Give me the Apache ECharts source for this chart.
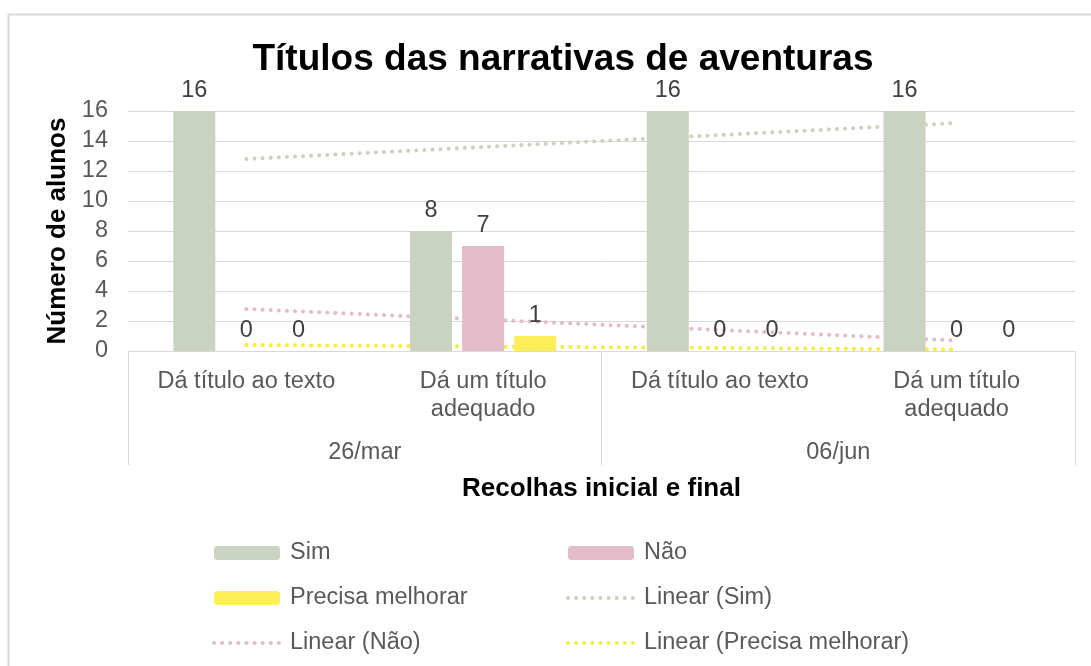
<!DOCTYPE html>
<html>
<head>
<meta charset="utf-8">
<script src="https://cdn.jsdelivr.net/npm/echarts@6/dist/echarts.min.js"></script>
<style>
  html, body { margin: 0; padding: 0; background: #fff; }
  #chart { width: 1091px; height: 666px; }
</style>
</head>
<body>
<div id="chart"></div>
<script>
// categories
const subCategories = ['Dá título ao texto', 'Dá um título\nadequado', 'Dá título ao texto', 'Dá um título\nadequado'];
const groups = ['26/mar', '06/jun'];

// bar values
const sim = [16, 8, 16, 16];
const nao = [0, 7, 0, 0];
const precisa = [0, 1, 0, 0];

// trend lines
const linearSim = [12.8, 13.6, 14.4, 15.2];
const linearNao = [2.8, 2.1, 1.4, 0.7];
const linearPrecisa = [0.4, 0.3, 0.2, 0.1];

const font = 'Liberation Sans, Arial, sans-serif';
const gray = '#595959';
const colSim = '#cad3bf';
const colNao = '#e2bdc9';
const colPrecisa = '#fbee5a';
const colPrecisaLine = '#f7ec3a';
const fs = 23.5;

const chart = echarts.init(document.getElementById('chart'));

function dotted(color) {
  return { color: color, width: 4, type: [0.1, 8], cap: 'round' };
}

function barSeries(name, data, color) {
  return {
    name: name,
    type: 'bar',
    data: data,
    barWidth: 42,
    barGap: '24%',
    z: 3,
    itemStyle: { color: color },
    label: {
      show: true,
      position: 'top',
      distance: 8,
      fontFamily: font,
      fontSize: fs,
      color: '#404040'
    }
  };
}

function trendSeries(name, data, color) {
  return {
    name: name,
    type: 'line',
    data: data,
    symbol: 'none',
    silent: true,
    z: 1,
    itemStyle: { color: color },
    lineStyle: dotted(color)
  };
}

function legendItem(name, lineColor) {
  if (!lineColor) return { name: name };
  return { name: name, itemStyle: { opacity: 0 }, lineStyle: dotted(lineColor) };
}

const legendText = { fontFamily: font, fontSize: fs, color: gray, lineHeight: 24, padding: [0, 0, 0, 5] };

chart.setOption({
  animation: false,
  textStyle: { fontFamily: font },
  title: {
    text: 'Títulos das narrativas de aventuras',
    left: 558,
    textAlign: 'center',
    top: 36,
    textStyle: { fontFamily: font, fontSize: 37, fontWeight: 'bold', color: '#000' }
  },
  graphic: [{
    type: 'rect',
    shape: { x: 8.5, y: 14.5, width: 1200, height: 800 },
    style: { fill: 'none', stroke: '#d9d9d9', lineWidth: 2 },
    silent: true
  }],
  legend: [
    {
      orient: 'vertical',
      left: 212,
      top: 541,
      padding: 0,
      itemWidth: 66,
      itemHeight: 14,
      itemGap: 21,
      textStyle: legendText,
      data: [legendItem('Sim'), legendItem('Precisa melhorar'), legendItem('Linear (Não)', colNao)]
    },
    {
      orient: 'vertical',
      left: 566,
      top: 541,
      padding: 0,
      itemWidth: 66,
      itemHeight: 14,
      itemGap: 21,
      textStyle: legendText,
      data: [legendItem('Não'), legendItem('Linear (Sim)', colSim), legendItem('Linear (Precisa melhorar)', colPrecisaLine)]
    }
  ],
  grid: { left: 128, right: 16, top: 111, bottom: 315, containLabel: false },
  xAxis: [
    {
      type: 'category',
      data: subCategories,
      position: 'bottom',
      axisLine: { show: true, lineStyle: { color: '#d9d9d9', width: 1 } },
      axisTick: { show: false },
      axisLabel: { fontFamily: font, fontSize: fs, color: gray, lineHeight: 28, margin: 17, interval: 0 },
      name: 'Recolhas inicial e final',
      nameLocation: 'middle',
      nameGap: 125,
      nameTextStyle: { fontFamily: font, fontSize: 26, fontWeight: 'bold', color: '#000' }
    },
    {
      type: 'category',
      data: groups,
      position: 'bottom',
      axisLine: { show: false },
      axisTick: { show: true, length: 114, interval: 0, lineStyle: { color: '#d9d9d9', width: 1 } },
      axisLabel: { fontFamily: font, fontSize: fs, color: gray, margin: 90 },
      splitLine: { show: false }
    }
  ],
  yAxis: {
    type: 'value',
    min: 0,
    max: 16,
    interval: 2,
    axisLine: { show: false },
    axisTick: { show: false },
    axisLabel: { fontFamily: font, fontSize: fs, color: gray, margin: 20, padding: [4, 0, 0, 0] },
    splitLine: { lineStyle: { color: '#d9d9d9', width: 1 } },
    name: 'Número de alunos',
    nameLocation: 'middle',
    nameRotate: 90,
    nameGap: 57,
    nameTextStyle: { fontFamily: font, fontSize: 26, fontWeight: 'bold', color: '#000' }
  },
  series: [
    barSeries('Sim', sim, colSim),
    barSeries('Não', nao, colNao),
    barSeries('Precisa melhorar', precisa, colPrecisa),
    trendSeries('Linear (Sim)', linearSim, colSim),
    trendSeries('Linear (Não)', linearNao, colNao),
    trendSeries('Linear (Precisa melhorar)', linearPrecisa, colPrecisaLine)
  ]
});
</script>
</body>
</html>
